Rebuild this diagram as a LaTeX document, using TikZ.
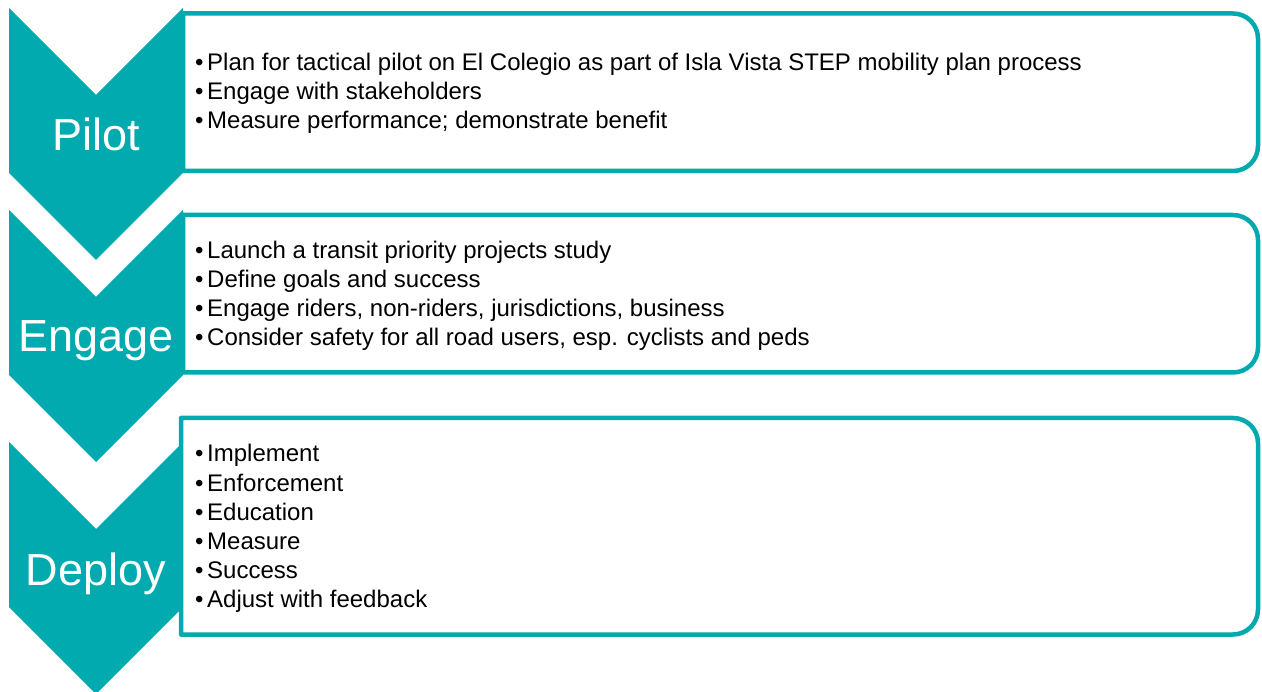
\documentclass[tikz,border=0pt]{standalone}
\usepackage{fontspec}
\setmainfont{Liberation Sans}
\definecolor{teal1}{RGB}{0,170,175}
\tikzset{
  chev/.style={fill=teal1, draw=none},
  listbox/.style={draw=teal1, line width=4.5pt, fill=white, line join=round},
  lbl/.style={text=white, font=\fontsize{45}{52}\selectfont, inner sep=0pt, anchor=base},
  item/.style={anchor=base west, inner sep=0pt, font=\fontsize{24}{28}\selectfont, text=black}
}
\newcommand{\bl}[1]{\makebox[12pt][l]{•}#1}
\newcommand{\mybox}[3]{% left, top, bottom
  \path[listbox] (#1,#2) -- (1233,#2) arc[start angle=-90,end angle=0,radius=25]
    -- (1258,#3-25) arc[start angle=0,end angle=90,radius=25] -- (#1,#3) -- cycle;}
\newcommand{\mychev}[1]{% top
  \path[chev] (9,#1) -- (96,#1+87) -- (183,#1) -- (183,#1+165) -- (96,#1+252) -- (9,#1+165) -- cycle;}
\begin{document}
\begin{tikzpicture}[x=1pt,y=-1pt]
\useasboundingbox (0,0) rectangle (1262,692);
% boxes 1 and 2 behind chevrons
\mybox{183}{13.5}{171}
\mybox{183}{215}{372.5}
\mychev{8}
\mychev{210}
\mychev{442}
\mybox{181}{418}{634.5}
% labels
\node[lbl] (pilot) at (96,151) {Pilot};
\node[lbl] (engage) at (96,352) {Engage};
\node[lbl] (deploy) at (96,585) {Deploy};
% items
\foreach \t [count=\i] in {Plan for tactical pilot on El Colegio as part of Isla Vista STEP mobility plan process,
  Engage with stakeholders, Measure performance; demonstrate benefit}
  \node[item] (a\i) at (195,{71+29*(\i-1)}) {\bl{\t}};
\foreach \t [count=\i] in {Launch a transit priority projects study, Define goals and success,
  {Engage riders, non-riders, jurisdictions, business},
  {Consider safety for all road users, esp. cyclists and peds}}
  \node[item] (b\i) at (195,{259+29*(\i-1)}) {\bl{\t}};
\foreach \t [count=\i] in {Implement, Enforcement, Education, Measure, Success, Adjust with feedback}
  \node[item] (c\i) at (195,{462+29.1*(\i-1)}) {\bl{\t}};
\end{tikzpicture}
\end{document}
